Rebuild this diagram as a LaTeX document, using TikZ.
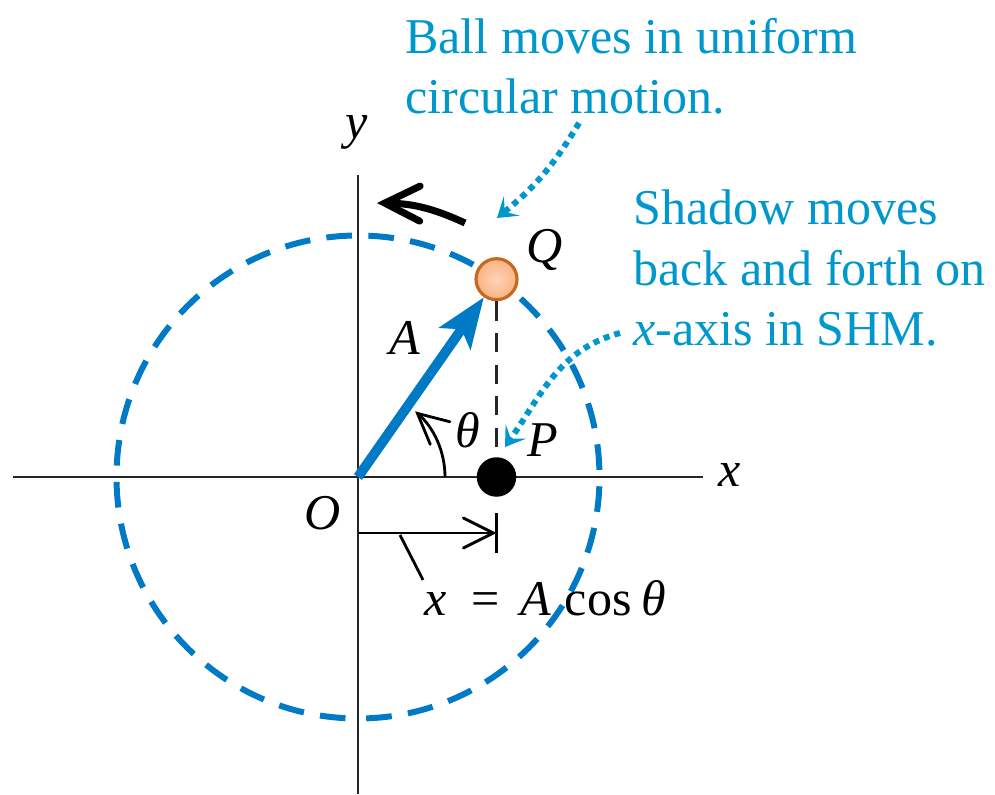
\documentclass[tikz,border=0pt]{standalone}
\usepackage{fontspec}
\setmainfont{Liberation Serif}
\usetikzlibrary{arrows.meta, calc, positioning}

\definecolor{ringblue}{RGB}{0,122,196}
\definecolor{notecyan}{RGB}{0,152,204}
\definecolor{ballfill}{RGB}{250,178,128}
\definecolor{ballrim}{RGB}{196,104,36}

\begin{document}
\begin{tikzpicture}[
  font=\fontsize{28.5}{34.2}\selectfont,
  axis/.style={line width=1.7pt, black!85},
  ring/.style={ringblue, line width=3.4pt, dash pattern=on 14.6pt off 9.32pt, dash phase=19.26pt},
  vec/.style={ringblue, line width=5.6pt, -{Stealth[length=10mm, width=7.5mm, inset=2.2mm]}},
  ball/.style={circle, draw=ballrim, line width=1.8pt, minimum size=8.2mm, inner sep=0pt,
    inner color=ballfill!55, outer color=ballfill, shading=radial},
  dot/.style={circle, fill=black, minimum size=7.9mm, inner sep=0pt},
  shade line/.style={black!85, line width=1.5pt, dash pattern=on 11pt off 7pt},
  barb/.style={line width=1.6pt, -{Straight Barb[length=6mm, width=6mm, line cap=round]}},
  spin/.style={line width=4pt, -{Straight Barb[length=7mm, width=7mm, line cap=round]}},
  pointer/.style={notecyan, line width=3.4pt, dash pattern=on 3.4pt off 2.9pt,
    -{Stealth[length=3.8mm, width=5mm, inset=1.8mm]}},
  note/.style={text=notecyan, align=left, anchor=west, inner sep=0pt},
  lab/.style={inner sep=0pt}
]
  \useasboundingbox (-7.16,-6.34) rectangle (12.74,9.54);

  % reference circle and axes
  \coordinate (O) at (0,0);
  \draw[ring] (O) ++(0,-4.83) arc[start angle=-90, end angle=270, radius=4.83];
  \draw[axis] (-6.9,0) -- (6.9,0);
  \draw[axis] (0,-6.34) -- (0,6.04);

  % ball and its shadow
  \node[ball] (Q) at (55:4.83) {};
  \node[dot] (P) at (Q |- O) {};
  \draw[shade line] (Q.south) -- (P.north);
  \draw[vec] (O) -- (Q);

  % angle and direction of motion
  \draw[barb] (O) ++(0:1.74) arc[start angle=0, end angle=49, radius=1.74];
  \coordinate (spinA) at (2.14,5.08);
  \coordinate (spinB) at (0.38,5.48);
  \draw[spin] (spinA) to[bend right=12] (spinB);

  % displacement along x
  \coordinate (dispA) at (0,-1.12);
  \coordinate (dispB) at (P |- dispA);
  \draw[barb] (dispA) -- (dispB);
  \draw[line width=1.6pt] ($(dispB)+(0,0.4)$) -- ($(dispB)+(0,-0.4)$);
  \node[lab] (eqn) at (3.75,-2.42)
    {\textit{x}\hspace{0.5em}=\hspace{0.4em}\textit{A}\hspace{0.28em}cos\hspace{0.2em}\textit{θ}};
  \coordinate (lead) at (0.84,-1.16);
  \draw[line width=1.6pt] (lead) -- (eqn.north west -| 1.3,0);

  % labels
  \node[lab] (labQ) at (3.74,4.54) {\textit{Q}};
  \node[lab] (labP) at (3.7,0.74) {\textit{P}};
  \node[lab] (labA) at (0.94,2.78) {\textit{A}};
  \node[lab] (labT) at (2.2,0.94) {\textit{θ}};
  \node[lab] (labO) at (-0.7,-0.72) {\textit{O}};
  \node[lab] (labx) at (7.44,0.04) {\textit{x}};
  \node[lab] (laby) at (-0.02,6.9) {\textit{y}};

  % notes
  \node[note] (ballnote) at (0.94,8.22) {Ball moves in uniform\\circular motion.};
  \node[note] (shadownote) at (5.5,4.18) {Shadow moves\\back and forth on\\\textit{x}-axis in SHM.};

  \coordinate (ptrA) at (4.42,7.08);
  \coordinate (ptrAend) at (2.78,5.18);
  \draw[pointer] (ptrA) to[bend left=10] (ptrAend);
  \coordinate (ptrB) at (5.24,2.88);
  \coordinate (ptrBend) at (2.94,0.6);
  \draw[pointer] (ptrB) to[out=195, in=55] (ptrBend);
\end{tikzpicture}
\end{document}
